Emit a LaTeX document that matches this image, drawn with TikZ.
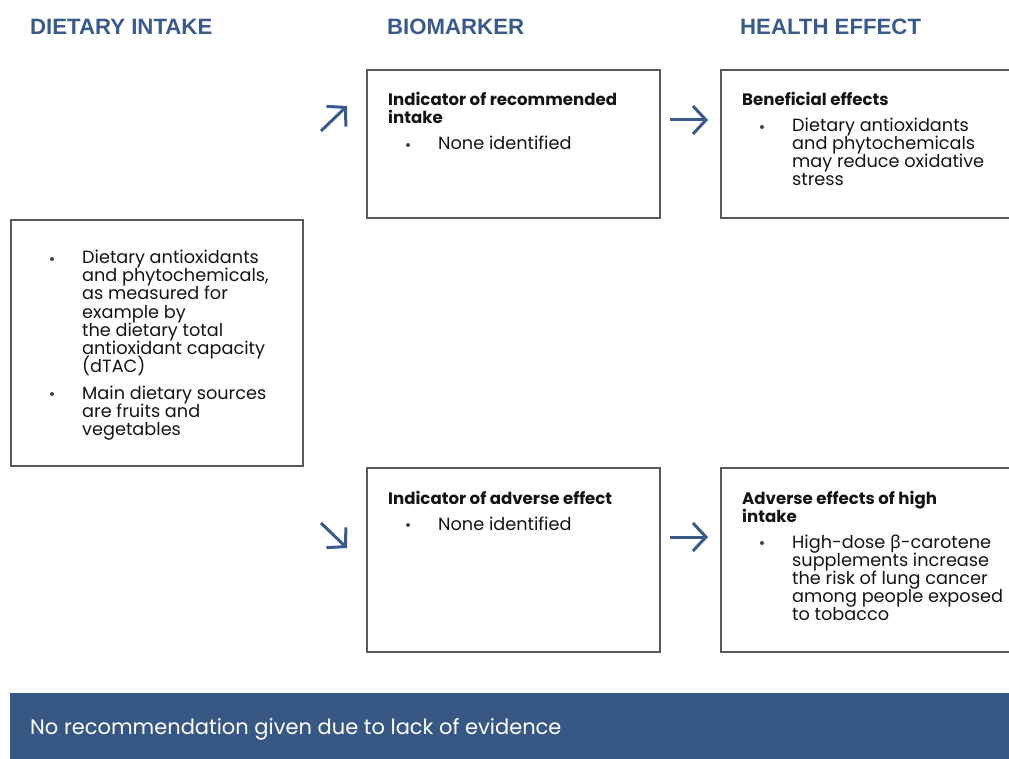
\documentclass[tikz,border=0pt]{standalone}
\usepackage{fontspec}
\setmainfont{Poppins}
\newfontfamily\hdfont{Liberation Sans}
\newfontfamily\grk{Noto Sans}
\usetikzlibrary{arrows.meta}
\definecolor{hblue}{HTML}{3A5A8C}
\definecolor{barblue}{HTML}{375885}
\definecolor{boxgray}{HTML}{5A5A5A}
\definecolor{ink}{HTML}{141414}
\tikzset{
  panel/.style={draw=boxgray, line width=1.5pt},
  hdr/.style={anchor=base west, inner sep=0, text=hblue, font=\hdfont\bfseries\fontsize{22.2}{24}\selectfont},
  body/.style={anchor=base west, inner sep=0, text=ink, font=\fontsize{17.7}{18}\selectfont},
  ttl/.style={body, font=\bfseries\fontsize{16.6}{18}\selectfont},
  dot/.style={circle, fill=ink!80, inner sep=0, minimum size=4pt},
  flow/.style={draw=hblue, line width=3pt, -{Straight Barb[length=13pt,width=28pt]}},
}
\begin{document}
\begin{tikzpicture}[x=1pt,y=-1pt]
\useasboundingbox (0,0) rectangle (1009,759);
\clip (0,0) rectangle (1009,759);
% headers
\node[hdr] (h1) at (30,35) {DIETARY INTAKE};
\node[hdr] (h2) at (387,35) {BIOMARKER};
\node[hdr] (h3) at (740,35) {HEALTH EFFECT};
% boxes
\draw[panel] (11,220) rectangle (303,466);
\draw[panel] (367,70) rectangle (660,218);
\draw[panel] (721,70) rectangle (1030,218);
\draw[panel] (367,468) rectangle (660,652);
\draw[panel] (721,468) rectangle (1030,652);
% left box
\node[dot] (ld1) at (52,259) {};
\foreach \t [count=\i from 0] in {Dietary antioxidants, {and phytochemicals,}, as measured for, example by, the dietary total, antioxidant capacity, (dTAC)}
  \node[body] (la\i) at (82,264+18*\i) {\t};
\node[dot] (ld2) at (52,394) {};
\foreach \t [count=\i from 0] in {Main dietary sources, are fruits and, vegetables}
  \node[body] (lb\i) at (82,399+18*\i) {\t};
% top middle
\node[ttl] (tm0) at (388,106) {Indicator of recommended};
\node[ttl] (tm1) at (388,124) {intake};
\node[dot] (tmd) at (408,145) {};
\node[body] (tmb) at (438,150) {None identified};
% top right
\node[ttl] (tr0) at (742,106) {Beneficial effects};
\node[dot] (trd) at (762,127) {};
\foreach \t [count=\i from 0] in {Dietary antioxidants, and phytochemicals, may reduce oxidative, stress}
  \node[body] (tr\i b) at (792,132+18*\i) {\t};
% bottom middle
\node[ttl] (bm0) at (388,504) {Indicator of adverse effect};
\node[dot] (bmd) at (408,525) {};
\node[body] (bmb) at (438,530) {None identified};
% bottom right
\node[ttl] (br0) at (742,504) {Adverse effects of high};
\node[ttl] (br1) at (742,522) {intake};
\node[dot] (brd) at (762,543) {};
\foreach \t [count=\i from 0] in {High-dose {\grk β}-carotene, supplements increase, the risk of lung cancer, among people exposed, to tobacco}
  \node[body] (br\i b) at (792,548+18*\i) {\t};
% arrows
\coordinate (a1s) at (321,131); \coordinate (a1e) at (347,106);
\coordinate (a2s) at (670,120); \coordinate (a2e) at (708,120);
\coordinate (a3s) at (321,523); \coordinate (a3e) at (347,548);
\coordinate (a4s) at (670,537); \coordinate (a4e) at (708,537);
\draw[flow] (a1s) -- (a1e);
\draw[flow] (a2s) -- (a2e);
\draw[flow] (a3s) -- (a3e);
\draw[flow] (a4s) -- (a4e);
% bottom bar
\fill[barblue] (10,693) rectangle (1030,770);
\node[anchor=base west, inner sep=0, text=white, font=\fontsize{21}{24}\selectfont] (bar) at (30,734) {No recommendation given due to lack of evidence};
\end{tikzpicture}
\end{document}
